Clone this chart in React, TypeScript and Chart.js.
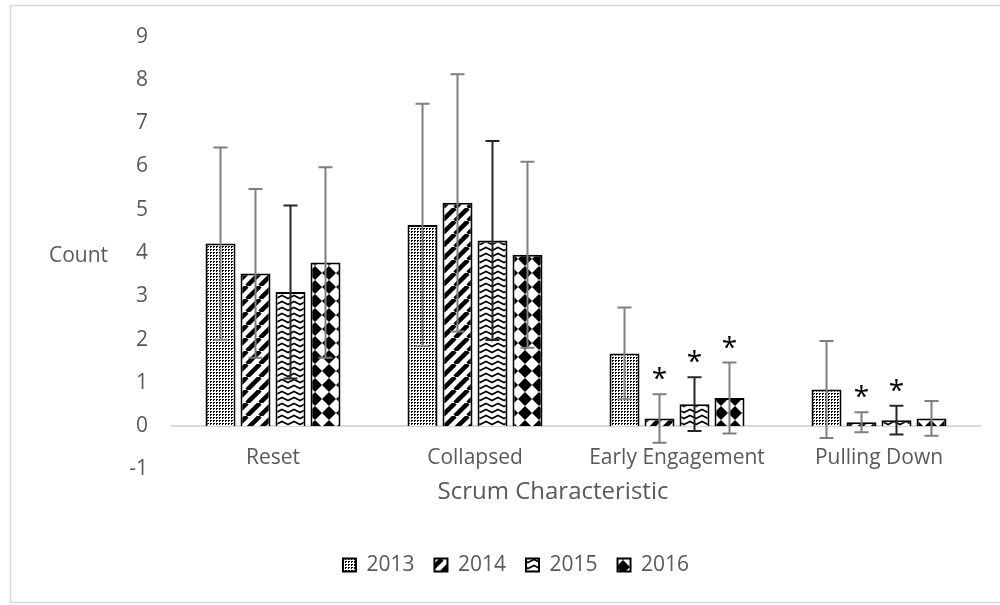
import React, { useEffect, useRef } from 'react';
import { Chart, registerables } from 'chart.js';

Chart.register(...registerables);

// ---------- data ----------
const categories = ['Reset', 'Collapsed', 'Early Engagement', 'Pulling Down'];
const seriesLabels = ['2013', '2014', '2015', '2016'];

const values2013 = [4.22, 4.65, 1.68, 0.85];
const values2014 = [3.53, 5.16, 0.18, 0.09];
const values2015 = [3.1, 4.29, 0.51, 0.14];
const values2016 = [3.78, 3.96, 0.65, 0.18];

const err2013 = [2.22, 2.8, 1.06, 1.12];
const err2014 = [1.95, 2.97, 0.56, 0.23];
const err2015 = [2.0, 2.3, 0.62, 0.33];
const err2016 = [2.2, 2.15, 0.82, 0.4];

// significance markers (*)
const sig2013 = [false, false, false, false];
const sig2014 = [false, false, true, true];
const sig2015 = [false, false, true, true];
const sig2016 = [false, false, true, false];

const yMin = -1;
const yMax = 9;
const yStep = 1;
const yAxisLabel = 'Count';
const xAxisLabel = 'Scrum Characteristic';

// ---------- styles ----------
const FONT = '"Open Sans"';
const TEXT_COLOR = '#595959';
const ERR_COLORS = ['#7f7f7f', '#7f7f7f', '#262626', '#7f7f7f'];

function makeTile(w: number, h: number, draw: (g: CanvasRenderingContext2D) => void): CanvasPattern {
  const c = document.createElement('canvas');
  c.width = w;
  c.height = h;
  const g = c.getContext('2d') as CanvasRenderingContext2D;
  g.fillStyle = '#ffffff';
  g.fillRect(0, 0, w, h);
  draw(g);
  const ctx = document.createElement('canvas').getContext('2d') as CanvasRenderingContext2D;
  return ctx.createPattern(c, 'repeat') as CanvasPattern;
}

function makePatterns(): CanvasPattern[] {
  const dots = makeTile(3, 3, (g) => {
    g.fillStyle = '#000';
    g.fillRect(0, 0, 2, 1);
    g.fillRect(0, 0, 1, 2);
  });
  const T = 13;
  const stripes = makeTile(T, T, (g) => {
    g.strokeStyle = '#000';
    g.lineWidth = 4.5;
    for (const k of [-1, 0, 1]) {
      g.beginPath();
      g.moveTo(k * T, T);
      g.lineTo(k * T + T, 0);
      g.stroke();
    }
  });
  const zig = makeTile(12, 6, (g) => {
    g.strokeStyle = '#000';
    g.lineWidth = 1.6;
    g.beginPath();
    g.moveTo(-6, 1.5);
    g.lineTo(0, 4.5);
    g.lineTo(6, 1.5);
    g.lineTo(12, 4.5);
    g.lineTo(18, 1.5);
    g.stroke();
  });
  const D = 14;
  const diamonds = makeTile(D, D, (g) => {
    g.fillStyle = '#000';
    g.beginPath();
    g.moveTo(D / 2, 0);
    g.lineTo(D, D / 2);
    g.lineTo(D / 2, D);
    g.lineTo(0, D / 2);
    g.closePath();
    g.fill();
  });
  return [dots, stripes, zig, diamonds];
}

export default function App() {
  const canvasRef = useRef<HTMLCanvasElement | null>(null);

  useEffect(() => {
    const canvas = canvasRef.current;
    if (!canvas) return;
    Chart.defaults.font.family = FONT;

    const valueSets = [values2013, values2014, values2015, values2016];
    const errSets = [err2013, err2014, err2015, err2016];
    const sigSets = [sig2013, sig2014, sig2015, sig2016];
    const patterns = makePatterns();

    const framePlugin = {
      id: 'frame',
      beforeDraw(chart: any) {
        const { ctx, width, height } = chart;
        ctx.save();
        ctx.fillStyle = '#ffffff';
        ctx.fillRect(0, 0, width, height);
        ctx.strokeStyle = '#d9d9d9';
        ctx.lineWidth = 1.5;
        ctx.strokeRect(10.5, 5.5, width + 20, height - 8);
        ctx.restore();
      },
      afterDraw(chart: any) {
        const { ctx } = chart;
        const zeroY = chart.scales.y.getPixelForValue(0);
        ctx.save();
        ctx.fillStyle = TEXT_COLOR;
        ctx.font = `21px ${FONT}`;
        ctx.textAlign = 'left';
        ctx.textBaseline = 'middle';
        ctx.fillText(yAxisLabel, 49, 256);
        ctx.font = `24px ${FONT}`;
        ctx.textAlign = 'center';
        ctx.fillText(xAxisLabel, 553, zeroY + 66);
        ctx.restore();
      },
    };

    const errorBarPlugin = {
      id: 'errorBars',
      afterDatasetsDraw(chart: any) {
        const { ctx } = chart;
        const yScale = chart.scales.y;
        ctx.save();
        chart.data.datasets.forEach((ds: any, i: number) => {
          const meta = chart.getDatasetMeta(i);
          meta.data.forEach((bar: any, j: number) => {
            const v = ds.data[j];
            const e = errSets[i][j];
            const x = bar.x;
            const yTop = yScale.getPixelForValue(v + e);
            const yBot = yScale.getPixelForValue(v - e);
            ctx.strokeStyle = ERR_COLORS[i];
            ctx.lineWidth = 2;
            ctx.beginPath();
            ctx.moveTo(x, yTop);
            ctx.lineTo(x, yBot);
            ctx.moveTo(x - 7, yTop);
            ctx.lineTo(x + 7, yTop);
            ctx.moveTo(x - 7, yBot);
            ctx.lineTo(x + 7, yBot);
            ctx.stroke();
            if (sigSets[i][j]) {
              ctx.fillStyle = '#000';
              ctx.font = `28px ${FONT}`;
              ctx.textAlign = 'center';
              ctx.textBaseline = 'alphabetic';
              ctx.fillText('*', x, yTop - 22 + 16);
            }
          });
        });
        ctx.restore();
      },
    };

    const chart = new Chart(canvas, {
      type: 'bar',
      data: {
        labels: categories,
        datasets: seriesLabels.map((label, i) => ({
          label,
          data: valueSets[i],
          backgroundColor: patterns[i] as any,
          borderColor: '#000000',
          borderWidth: 2,
          categoryPercentage: 0.693,
          barPercentage: 0.857,
        })),
      },
      options: {
        responsive: false,
        animation: false,
        devicePixelRatio: 1,
        events: [],
        layout: { padding: { left: 52, right: 20, top: 35, bottom: 19.5 } },
        scales: {
          x: {
            position: { y: 0 } as any,
            grid: { display: false, drawTicks: false },
            border: { display: true, color: '#d9d9d9', width: 2 },
            ticks: { color: TEXT_COLOR, font: { size: 21 }, padding: 19, maxRotation: 0, autoSkip: false },
          },
          y: {
            min: yMin,
            max: yMax,
            grid: { display: false, drawTicks: false },
            border: { display: false },
            ticks: { stepSize: yStep, color: TEXT_COLOR, font: { size: 21 }, padding: 24 },
            afterFit: (s: any) => {
              s.width = 120;
            },
          },
        },
        plugins: {
          legend: {
            position: 'bottom',
            title: { display: true, text: '', font: { size: 10, lineHeight: 1 }, padding: { top: 55, bottom: 0 } },
            labels: {
              color: TEXT_COLOR,
              font: { size: 21 },
              boxWidth: 13,
              boxHeight: 13,
              padding: 20,
            },
          },
          tooltip: { enabled: false },
        },
      },
      plugins: [framePlugin, errorBarPlugin],
    });

    return () => chart.destroy();
  }, []);

  return (
    <div style={{ position: 'fixed', left: 0, top: 0, width: 1000, height: 605 }}>
      <canvas ref={canvasRef} width={1000} height={605} />
    </div>
  );
}
